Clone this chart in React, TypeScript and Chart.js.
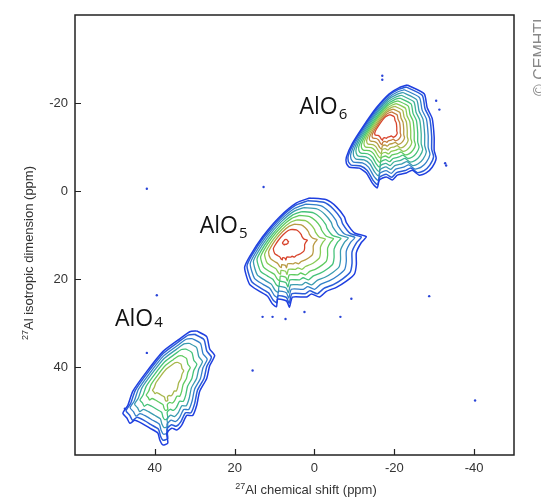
import React, { useEffect, useRef } from 'react';
import { Chart, registerables } from 'chart.js';
Chart.register(...registerables);

// Axis ticks (ppm)
const xTicks = [40, 20, 0, -20, -40];
const yTicks = [-20, 0, 20, 40];

// Outer contour of each site, [chemical shift, isotropic dimension] in ppm
const alo6Outline: number[][] = [
  [-23.25, -24.1], [-27.5, -22.1], [-28.25, -18.9], [-29.5, -16.5], [-30, -12.2],
  [-30, -9.2], [-30.5, -7.4], [-29.5, -5.4], [-28, -4.1], [-26.25, -3.6],
  [-24.5, -4.7], [-23, -4.1], [-20.75, -3.6], [-19.5, -2.5], [-18, -3.2],
  [-16.25, -2.5], [-15.75, -0.7], [-14.5, -1.8], [-13, -4.1], [-11.25, -5.2],
  [-8.75, -5.4], [-8, -6.3], [-8, -7.7], [-9.5, -10.8], [-12, -14.4],
  [-15.5, -18.9], [-18.75, -22.1], [-21.25, -23.5],
];
const alo6Max = [-17.5, -15.1];
const alo6Levels = [1, 0.95, 0.88, 0.81, 0.74, 0.67, 0.6, 0.53, 0.46, 0.39, 0.32, 0.25];
const alo6Colors = [0, 1, 2, 3, 4, 5, 6, 7, 8, 9, 10, 11];

const alo5Outline: number[][] = [
  [1.25, 1.6], [-3, 2.0], [-5.5, 3.6], [-7.5, 5.9], [-8, 7.2], [-10, 9.5],
  [-13, 10.4], [-11.75, 11.7], [-10.5, 14.0], [-10.5, 16.7], [-10, 18.9],
  [-8, 20.5], [-5.5, 21.9], [-3, 22.8], [-1.25, 24.1], [0.75, 23.4], [2, 24.1],
  [5.5, 24.1], [6.25, 26.4], [7, 25.0], [9.25, 24.6], [9.5, 26.3], [10.5, 25.7],
  [11.75, 23.9], [13.75, 22.8], [16.25, 21.2], [17.5, 17.4], [16.25, 14.9],
  [13, 10.4], [8.75, 5.9], [4.5, 2.7],
];
const alo5Max = [7.5, 11.5];
const alo5Levels = [1, 0.94, 0.86, 0.78, 0.69, 0.6, 0.5, 0.4, 0.28, 0.05];
const alo5Colors = [0, 1, 2, 3, 5, 6, 7, 9, 11, 11];

const alo4Outline: number[][] = [
  [29.5, 31.8], [27, 33.1], [26.25, 35.9], [25, 37.4], [26.25, 39.7], [27, 42.6],
  [28.75, 45.5], [29.5, 48.7], [30.5, 51.0], [32, 51.0], [33.25, 53.2], [34.5, 54.3],
  [35.75, 53.9], [37, 55.0], [36.75, 57.3], [38, 57.7], [38.75, 56.6], [39.25, 55.0],
  [41.25, 53.9], [43.25, 52.8], [45, 52.1], [46.25, 52.8], [47, 51.6], [48, 50.5],
  [46.75, 48.7], [45.5, 45.5], [42, 41.0], [38, 36.5], [33.75, 33.6], [31.25, 32.0],
];
const alo4Max = [36.75, 42.6];
const alo4Levels = [1, 0.93, 0.84, 0.74, 0.62, 0.48, 0.34];
const alo4Colors = [0, 1, 2, 3, 5, 6, 8];

// Isolated noise specks (ppm)
const noiseX = [42, 12.75, -17, -17, -32.75, -28.75, -40.25, 15.5, 39.5, 13, 10.5, 7.25, -6.5, 42, -30.5, -31.3, -33, 2.5, -9.25, 47.5];
const noiseY = [-0.5, -0.9, -26.2, -25.3, -6.3, 23.9, 47.6, 40.8, 23.7, 28.6, 28.6, 29.1, 28.6, 36.8, -20.5, -18.5, -5.8, 27.5, 24.5, 49.5];

// Site labels
const siteNames = ['AlO', 'AlO', 'AlO'];
const siteSubs = ['6', '5', '4'];
const siteX = [3.75, 28.75, 50];
const siteY = [-17.6, 9.5, 30.7];

const levelColors = [
  '#1f3fe0', '#2a5cd8', '#3380c8', '#3a9bb0', '#3fb298', '#45c27a',
  '#5fcb60', '#8acb55', '#a8b74c', '#b99a44', '#c57a3e', '#d8442c',
];

function contourSets(outline: number[][], max: number[], levels: number[], colors: number[]) {
  return levels.map((s, i) => {
    const pts = outline.map(([x, y]) => ({ x: max[0] + s * (x - max[0]), y: max[1] + s * (y - max[1]) }));
    pts.push(pts[0]);
    return {
      data: pts,
      showLine: true,
      borderColor: levelColors[colors[i]],
      backgroundColor: levelColors[colors[i]],
      borderWidth: i < 2 ? 1.5 : 1.3,
      pointRadius: 0,
      tension: 0.2,
      fill: false,
    };
  });
}

const FONT = '"Liberation Sans", Arial, sans-serif';

const overlay = {
  id: 'overlay',
  afterDraw(chart: any) {
    const { ctx, chartArea: a, scales } = chart;
    const xs = scales.x, ys = scales.y;
    ctx.save();
    ctx.strokeStyle = '#222';
    ctx.lineWidth = 1.5;
    ctx.strokeRect(a.left, a.top, a.right - a.left, a.bottom - a.top);
    ctx.lineWidth = 1.2;
    ctx.beginPath();
    xTicks.forEach((v) => {
      const p = Math.round(xs.getPixelForValue(v)) + 0.5;
      ctx.moveTo(p, a.bottom);
      ctx.lineTo(p, a.bottom - 6);
    });
    yTicks.forEach((v) => {
      const p = Math.round(ys.getPixelForValue(v)) + 0.5;
      ctx.moveTo(a.left, p);
      ctx.lineTo(a.left + 6, p);
    });
    ctx.stroke();

    // site labels
    ctx.fillStyle = '#111';
    ctx.textBaseline = 'alphabetic';
    ctx.textAlign = 'left';
    siteNames.forEach((n, i) => {
      const px = xs.getPixelForValue(siteX[i]);
      const py = ys.getPixelForValue(siteY[i]);
      ctx.font = '23px "Open Sans", sans-serif';
      ctx.fillText(n, px, py);
      const w = ctx.measureText(n).width;
      ctx.font = '15px "Open Sans", sans-serif';
      ctx.fillText(siteSubs[i], px + w + 1, py + (i === 2 ? 1 : 5));
    });

    // axis titles
    ctx.fillStyle = '#333';
    const drawTitle = (text: string) => {
      ctx.font = '9px ' + FONT;
      const w1 = ctx.measureText('27').width;
      ctx.font = '13px ' + FONT;
      const w2 = ctx.measureText(text).width;
      const start = -(w1 + w2) / 2;
      ctx.font = '9px ' + FONT;
      ctx.fillText('27', start, -5);
      ctx.font = '13px ' + FONT;
      ctx.fillText(text, start + w1, 0);
    };
    ctx.save();
    ctx.translate(306, 494);
    drawTitle('Al chemical shift (ppm)');
    ctx.restore();
    ctx.save();
    ctx.translate(33, 253);
    ctx.rotate(-Math.PI / 2);
    drawTitle('Al isotropic dimension (ppm)');
    ctx.restore();

    // copyright
    ctx.save();
    ctx.translate(545, 96);
    ctx.rotate(-Math.PI / 2);
    ctx.fillStyle = '#888';
    ctx.font = '16px ' + FONT;
    ctx.textAlign = 'left';
    ctx.fillText('© CEMHTI', 0, 0);
    ctx.restore();
    ctx.restore();
  },
};

export default function App() {
  const ref = useRef<HTMLCanvasElement>(null);
  useEffect(() => {
    document.body.style.margin = '0';
    const datasets: any[] = [
      ...contourSets(alo6Outline, alo6Max, alo6Levels, alo6Colors),
      ...contourSets(alo5Outline, alo5Max, alo5Levels, alo5Colors),
      ...contourSets(alo4Outline, alo4Max, alo4Levels, alo4Colors),
      {
        data: noiseX.map((x, i) => ({ x, y: noiseY[i] })),
        showLine: false,
        pointRadius: 1.2,
        pointBorderWidth: 0,
        backgroundColor: '#2a45d8',
        borderColor: '#2a45d8',
      },
    ];
    const tickFont = { family: FONT, size: 13 };
    const chart = new Chart(ref.current!, {
      type: 'scatter',
      data: { datasets },
      options: {
        animation: false,
        responsive: false,
        events: [],
        layout: { padding: { left: 0, right: 27, top: 15, bottom: 0 } },
        plugins: { legend: { display: false }, tooltip: { enabled: false } },
        scales: {
          x: {
            type: 'linear',
            reverse: true,
            min: -50,
            max: 60,
            grid: { display: false, drawTicks: false },
            border: { display: false },
            ticks: { font: tickFont, color: '#333', padding: 6 },
            afterBuildTicks: (s: any) => { s.ticks = xTicks.map((v) => ({ value: v })); },
            afterFit: (s: any) => { s.height = 48; },
          },
          y: {
            type: 'linear',
            reverse: true,
            min: -40,
            max: 60,
            grid: { display: false, drawTicks: false },
            border: { display: false },
            ticks: { font: tickFont, color: '#333', padding: 7 },
            afterBuildTicks: (s: any) => { s.ticks = yTicks.map((v) => ({ value: v })); },
            afterFit: (s: any) => { s.width = 75; },
          },
        },
      } as any,
      plugins: [overlay],
    });
    return () => chart.destroy();
  }, []);
  return <canvas ref={ref} width={541} height={503} style={{ display: 'block' }} />;
}
